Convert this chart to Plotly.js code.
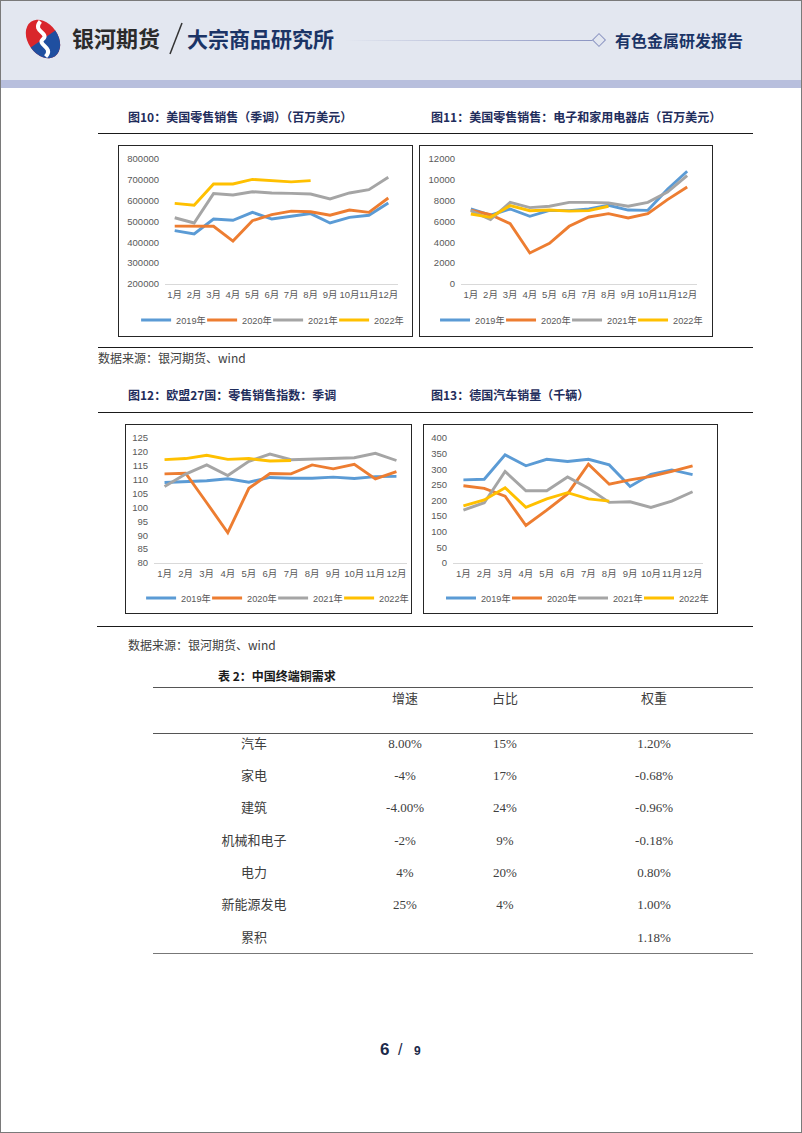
<!DOCTYPE html>
<html><head><meta charset="utf-8">
<script src="https://cdn.plot.ly/plotly-3.0.1.min.js"></script>
<style>
html,body{margin:0;padding:0;background:#fff;}
#page{position:relative;width:802px;height:1133px;overflow:hidden;font-family:"Noto Sans CJK SC","Liberation Sans",sans-serif;background:#fff;}
.rule{position:absolute;height:0;border-top:1.5px solid #1a1a1a;}
.ftitle{position:absolute;font-size:12px;font-weight:bold;color:#1f2d5c;white-space:nowrap;line-height:14px;}
.src{position:absolute;font-size:12px;color:#404040;white-space:nowrap;line-height:14px;}
.box{position:absolute;border:1.5px solid #262626;box-sizing:border-box;pointer-events:none;}
.plot{position:absolute;}
</style></head>
<body>
<div id="page">
  <div style="position:absolute;left:0;top:0;width:802px;height:80px;background:#e3e7f0;"></div>
  <div style="position:absolute;left:0;top:80px;width:802px;height:8px;background:#b8bfdd;"></div>
  <svg style="position:absolute;left:18px;top:14px" width="50" height="50" viewBox="0 0 50 50">
    <g transform="rotate(-35 25 25)">
      <ellipse cx="25" cy="25" rx="15" ry="21" fill="#d9262c"/>
      <path d="M10,25 A15,21 0 0 0 40,25 Z" fill="#1f4fa0"/>
      <path d="M33,9 C20,12 34,24 25,25 C16,26 30,38 17,41" stroke="#fff" stroke-width="4" fill="none"/>
    </g>
  </svg>
  <div style="position:absolute;left:72px;top:24px;font-size:22px;font-weight:bold;color:#2b2b2b;line-height:26px;white-space:nowrap;">银河期货</div>
  <svg style="position:absolute;left:166px;top:20px" width="20" height="38"><line x1="16" y1="3" x2="4" y2="34" stroke="#333" stroke-width="1.5"/></svg>
  <div style="position:absolute;left:187px;top:25px;font-size:21px;font-weight:bold;color:#1b3466;line-height:26px;white-space:nowrap;">大宗商品研究所</div>
  <div style="position:absolute;left:345px;top:39.5px;width:248px;height:1.5px;background:linear-gradient(to right,rgba(160,168,205,0),#8c95c2);"></div>
  <div style="position:absolute;left:594px;top:35px;width:8px;height:8px;transform:rotate(45deg);border:1px solid #8c95c2;background:#e3e7f0;"></div>
  <div style="position:absolute;left:615px;top:30px;font-size:16px;font-weight:bold;color:#1b3466;line-height:20px;white-space:nowrap;">有色金属研发报告</div>

  <div class="ftitle" style="left:128px;top:110px;">图10：美国零售销售（季调）（百万美元）</div>
  <div class="ftitle" style="left:431px;top:110px;">图11：美国零售销售：电子和家用电器店（百万美元）</div>
  <div class="rule" style="left:98px;top:132.5px;width:655px;"></div>

  <div id="c1" class="plot" style="left:118px;top:145px;"></div>
  <div class="box" style="left:118px;top:145px;width:295px;height:192px;"></div>
  <div id="c2" class="plot" style="left:419px;top:145px;"></div>
  <div class="box" style="left:419px;top:145px;width:294px;height:192px;"></div>

  <div class="rule" style="left:98px;top:346.5px;width:655px;"></div>
  <div class="src" style="left:98px;top:351px;">数据来源：银河期货、wind</div>

  <div class="ftitle" style="left:128px;top:388px;">图12：欧盟27国：零售销售指数：季调</div>
  <div class="ftitle" style="left:431px;top:388px;">图13：德国汽车销量（千辆）</div>
  <div class="rule" style="left:98px;top:411.5px;width:655px;"></div>

  <div id="c3" class="plot" style="left:125px;top:424px;"></div>
  <div class="box" style="left:125px;top:424px;width:287px;height:190px;"></div>
  <div id="c4" class="plot" style="left:423px;top:424px;"></div>
  <div class="box" style="left:423px;top:424px;width:295px;height:190px;"></div>

  <div class="rule" style="left:97px;top:625.5px;width:656px;"></div>
  <div class="src" style="left:128px;top:638px;">数据来源：银河期货、wind</div>

  <div class="ftitle" style="left:218px;top:669px;color:#1a1a1a;">表 2：中国终端铜需求</div>
  <div id="tbl" class="plot" style="left:153px;top:685px;"></div>
  <div style="position:absolute;left:153px;top:682px;width:600px;height:4px;background:#fff;"></div>
  <div class="rule" style="left:153px;top:686.5px;width:600px;border-top:1.2px solid #555;"></div>
  <div class="rule" style="left:153px;top:732.5px;width:600px;border-top:1.2px solid #555;"></div>
  <div style="position:absolute;left:153px;top:953px;width:600px;height:30px;background:#fff;"></div>
  <div class="rule" style="left:153px;top:952.5px;width:600px;border-top:1.2px solid #777;"></div>

  <div style="position:absolute;left:380px;top:1039px;font-size:17px;font-weight:bold;color:#1c2a4a;line-height:22px;font-family:'Liberation Sans',sans-serif;">6</div>
  <div style="position:absolute;left:398px;top:1039px;font-size:16px;color:#1c2a4a;line-height:22px;font-family:'Liberation Sans',sans-serif;">/</div>
  <div style="position:absolute;left:414px;top:1043px;font-size:12px;font-weight:bold;color:#1c2a4a;line-height:16px;font-family:'Liberation Sans',sans-serif;">9</div>

  <div style="position:absolute;left:0;top:0;width:802px;height:1133px;border:1.5px solid #7a7a7a;box-sizing:border-box;pointer-events:none;"></div>
</div>

<script>
// ---------- data ----------
const months = ['1月','2月','3月','4月','5月','6月','7月','8月','9月','10月','11月','12月'];
const seriesNames = ['2019年','2020年','2021年','2022年'];

// 图10 美国零售销售（季调）（百万美元）
const usRetail2019 = [456000,440000,512000,506000,544000,512000,525000,538000,493000,520000,530000,589000];
const usRetail2020 = [478000,477000,477000,406000,504000,533000,550000,547000,530000,555000,544000,613000];
const usRetail2021 = [518000,493000,634000,627000,643000,637000,635000,632000,608000,637000,653000,712000];
const usRetail2022 = [587000,578000,680000,680000,702000,696000,690000,696000];

// 图11 电子和家用电器店（百万美元）
const usElec2019 = [7200,6600,7200,6500,7070,7040,7200,7550,7100,7070,9100,10820];
const usElec2020 = [7100,6650,5790,2980,3900,5540,6430,6750,6340,6750,8100,9310];
const usElec2021 = [7040,6180,7840,7330,7460,7840,7840,7780,7460,7840,8830,10400];
const usElec2022 = [6720,6400,7520,7040,7100,7000,7040,7460];

// 图12 欧盟27国零售销售指数（季调）
const euRetail2019 = [109.0,109.3,109.6,110.3,109.1,110.8,110.5,110.5,110.9,110.4,111.1,111.2];
const euRetail2020 = [112.1,112.3,101.7,90.9,106.9,112.2,112.1,115.3,113.9,115.5,110.3,112.9];
const euRetail2021 = [107.5,112.0,115.3,111.5,116.6,119.2,117.2,117.5,117.6,117.9,119.5,116.9];
const euRetail2022 = [117.2,117.6,118.8,117.3,117.6,116.7,116.9];

// 图13 德国汽车销量（千辆）
const deCars2019 = [266,268,346,311,332,325,332,314,245,284,298,283];
const deCars2020 = [247,239,214,120,169,221,316,252,266,277,293,311];
const deCars2021 = [169,193,293,231,231,275,239,194,196,178,198,228];
const deCars2022 = [183,202,241,178,205,225,205,198];

// 表2 中国终端铜需求
const tableHeader = ['', '增速', '占比', '权重'];
const tableCategories = ['汽车','家电','建筑','机械和电子','电力','新能源发电','累积'];
const growthRates = ['8.00%','-4%','-4.00%','-2%','4%','25%',''];
const shares = ['15%','17%','24%','9%','20%','4%',''];
const weights = ['1.20%','-0.68%','-0.96%','-0.18%','0.80%','1.00%','1.18%'];

// ---------- drawing ----------
const colors = ['#5B9BD5','#ED7D31','#A5A5A5','#FFC000'];
const FONT = 'Liberation Sans, Noto Sans CJK SC, sans-serif';

function makeChart(id, series, yr, dtick, w, h, m, legX, legY) {
  const traces = series.map((s, i) => ({
    type: 'scatter', mode: 'lines', name: seriesNames[i],
    x: months.slice(0, s.length), y: s,
    line: {color: colors[i], width: 2.9},
    legendwidth: i === series.length - 1 ? 34 : 21
  }));
  const layout = {
    width: w, height: h,
    margin: {l: m[0], r: m[1], t: m[2], b: m[3], pad: 0, autoexpand: false},
    paper_bgcolor: '#fff', plot_bgcolor: '#fff',
    font: {family: FONT, size: 9.2, color: '#595959'},
    showlegend: true,
    legend: {orientation: 'h', xref: 'paper', yref: 'paper', x: legX, xanchor: 'left',
             y: legY, yanchor: 'middle', font: {size: 9.2, color: '#595959'},
             entrywidthmode: 'pixels', traceorder: 'normal', itemwidth: 30},
    xaxis: {type: 'category', categoryarray: months, range: [-0.5, 11.5], showline: true,
            linecolor: '#d9d9d9', linewidth: 1, ticks: '', showgrid: false, zeroline: false,
            tickangle: 0, ticklabelstandoff: 2, tickfont: {size: 9.5, color: '#595959'}, fixedrange: true},
    yaxis: {range: yr, dtick: dtick, tick0: yr[0], tickformat: 'd', showgrid: false, zeroline: false, showline: false,
            ticks: '', ticklabelstandoff: 5, tickfont: {size: 9.5, color: '#595959'}, fixedrange: true}
  };
  Plotly.newPlot(id, traces, layout, {staticPlot: true, displayModeBar: false});
}

makeChart('c1', [usRetail2019, usRetail2020, usRetail2021, usRetail2022], [200000, 800000], 100000, 295, 192, [47, 15, 14, 53], -0.124, -0.288);
makeChart('c2', [usElec2019, usElec2020, usElec2021, usElec2022], [0, 12000], 2000, 294, 192, [42, 16, 14, 53], -0.11, -0.288);
makeChart('c3', [euRetail2019, euRetail2020, euRetail2021, euRetail2022], [80, 125], 5, 287, 190, [29, 5, 14, 51], -0.051, -0.28);
makeChart('c4', [deCars2019, deCars2020, deCars2021, deCars2022], [0, 400], 50, 295, 190, [30, 15, 14, 51], -0.048, -0.28);

Plotly.newPlot('tbl', [{
  type: 'table',
  columnwidth: [202, 100, 100, 198],
  header: {values: tableHeader, height: 45, align: 'center', fill: {color: '#fff'},
           line: {width: 0, color: '#fff'},
           font: {family: 'Noto Sans CJK SC', size: 13, color: '#404040'}},
  cells: {values: [tableCategories, growthRates, shares, weights], height: 32.3, align: 'center',
          fill: {color: '#fff'}, line: {width: 0, color: '#fff'},
          font: {family: ['Noto Sans CJK SC', 'Liberation Serif', 'Liberation Serif', 'Liberation Serif'],
                 size: 13, color: '#404040'}}
}], {width: 600, height: 285, margin: {l: 0, r: 0, t: 0, b: 0}, paper_bgcolor: '#fff'},
{staticPlot: true, displayModeBar: false});
</script>
</body></html>
